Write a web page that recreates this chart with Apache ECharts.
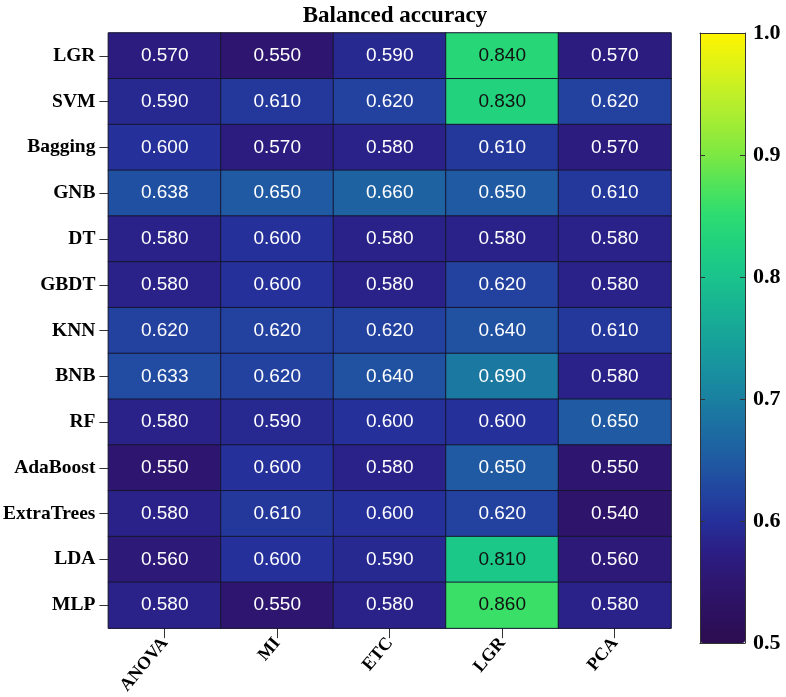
<!DOCTYPE html>
<html><head><meta charset="utf-8">
<script src="https://cdn.jsdelivr.net/npm/echarts@6/dist/echarts.min.js"></script>
<style>html,body{margin:0;padding:0;background:#fff}#c{width:786px;height:697px}</style>
</head><body><div id="c"></div>
<script>
var methods = ['ANOVA','MI','ETC','LGR','PCA'];
var models = ['LGR','SVM','Bagging','GNB','DT','GBDT','KNN','BNB','RF','AdaBoost','ExtraTrees','LDA','MLP'];
var vLGR = [0.570,0.550,0.590,0.840,0.570];
var vSVM = [0.590,0.610,0.620,0.830,0.620];
var vBagging = [0.600,0.570,0.580,0.610,0.570];
var vGNB = [0.638,0.650,0.660,0.650,0.610];
var vDT = [0.580,0.600,0.580,0.580,0.580];
var vGBDT = [0.580,0.600,0.580,0.620,0.580];
var vKNN = [0.620,0.620,0.620,0.640,0.610];
var vBNB = [0.633,0.620,0.640,0.690,0.580];
var vRF = [0.580,0.590,0.600,0.600,0.650];
var vAdaBoost = [0.550,0.600,0.580,0.650,0.550];
var vExtraTrees = [0.580,0.610,0.600,0.620,0.540];
var vLDA = [0.560,0.600,0.590,0.810,0.560];
var vMLP = [0.580,0.550,0.580,0.860,0.580];
var rows = [vLGR,vSVM,vBagging,vGNB,vDT,vGBDT,vKNN,vBNB,vRF,vAdaBoost,vExtraTrees,vLDA,vMLP];
var cbTicks = [0.5,0.6,0.7,0.8,0.9,1.0];

var data = [];
rows.forEach(function(r, i){
  r.forEach(function(v, j){
    data.push({value:[j, i, v], label:{color: v >= 0.75 ? '#111111' : '#ffffff'}});
  });
});

var serif = '"Liberation Serif","Times New Roman",serif';
var chart = echarts.init(document.getElementById('c'));
chart.setOption({
  animation:false,
  backgroundColor:'#ffffff',
  title:{text:'Balanced accuracy', left:390, textAlign:'center', top:0,
    textStyle:{fontFamily:serif, fontWeight:'bold', fontSize:23, color:'#000'}},
  grid:[
    {left:108, top:33, width:563, height:610, show:true, borderColor:'#aaa', borderWidth:1},
    {left:700, top:33, width:45, height:610, show:false}
  ],
  xAxis:[
    {type:'category', gridIndex:0, data:methods, position:'bottom',
     axisLine:{show:false}, axisTick:{show:true, alignWithLabel:true, length:10, lineStyle:{color:'#333'}},
     splitLine:{show:false},
     axisLabel:{rotate:50, fontFamily:serif, fontWeight:'bold', fontSize:18, color:'#000', margin:12}},
    {type:'value', gridIndex:1, min:0, max:1, position:'bottom', zlevel:1,
     axisLine:{show:true, onZero:false, lineStyle:{color:'#333'}}, axisTick:{show:false}, axisLabel:{show:false}, splitLine:{show:false}},
    {type:'value', gridIndex:1, min:0, max:1, position:'top', zlevel:1,
     axisLine:{show:true, onZero:false, lineStyle:{color:'#333'}}, axisTick:{show:false}, axisLabel:{show:false}, splitLine:{show:false}}
  ],
  yAxis:[
    {type:'category', gridIndex:0, data:models, inverse:true,
     axisLine:{show:false}, axisTick:{show:true, alignWithLabel:true, length:9, lineStyle:{color:'#333'}},
     splitLine:{show:false},
     axisLabel:{fontFamily:serif, fontWeight:'bold', fontSize:19.5, color:'#000', margin:13}},
    {type:'value', gridIndex:1, min:0.5, max:1.0, interval:0.1, position:'right', zlevel:1,
     axisLine:{show:true, onZero:false, lineStyle:{color:'#333'}},
     axisTick:{show:true, inside:true, length:5, lineStyle:{color:'#333'}},
     splitLine:{show:false},
     axisLabel:{fontFamily:serif, fontWeight:'bold', fontSize:22, color:'#000', margin:8,
       formatter:function(v){return v.toFixed(1);}}},
    {type:'value', gridIndex:1, min:0.5, max:1.0, interval:0.1, position:'left', zlevel:1,
     axisLine:{show:true, onZero:false, lineStyle:{color:'#333'}},
     axisTick:{show:true, inside:true, length:5, lineStyle:{color:'#333'}},
     splitLine:{show:false}, axisLabel:{show:false}}
  ],
  visualMap:{
    type:'continuous', min:0.5, max:1.0, seriesIndex:0, calculable:false,
    orient:'vertical', left:700, top:33, itemWidth:45, itemHeight:610, padding:0,
    text:null, showLabel:false,
    inRange:{color:['#2c0c50','#2d1160','#2e1670','#2b1e84','#25309a','#2245a0','#1f5aa2','#1c6da2','#1a80a0','#1892a0','#17a39a','#18b393','#1ac38c','#20d07f','#2cdc72','#50e35a','#7ce843','#a0ec35','#c0f028','#e0f215','#fff500']}
  },
  series:[
    {type:'heatmap', xAxisIndex:0, yAxisIndex:0, data:data,
     itemStyle:{borderColor:'#161630', borderWidth:1},
     label:{show:true, fontFamily:'"Liberation Sans",Arial,sans-serif', fontSize:19,
       formatter:function(p){return p.value[2].toFixed(3);}}}
  ]
});
</script></body></html>
